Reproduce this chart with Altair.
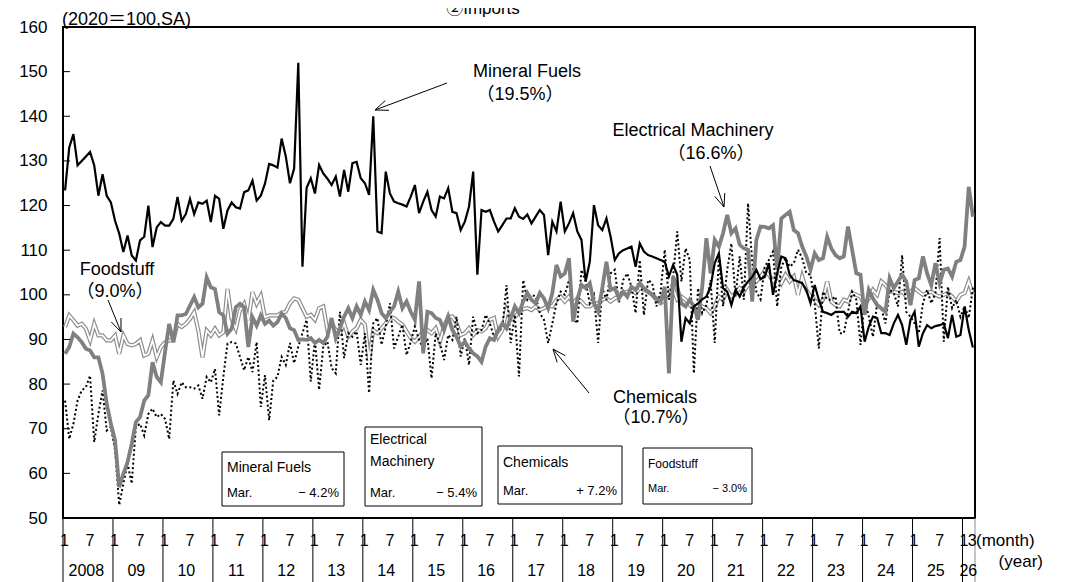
import math
import altair as alt
import pandas as pd

# ---------------- data (monthly, Jan 2008 - Mar 2026, 2020=100, SA) ----------------
year_labels = ["2008", "09", "10", "11", "12", "13", "14", "15", "16", "17",
               "18", "19", "20", "21", "22", "23", "24", "25", "26"]

mineral_fuels = [
    123.4, 133, 136, 129, 130, 131, 132, 129, 122.2, 127, 122.2, 120.7,
    116.6, 113.7, 109.6, 113.3, 108.8, 107.7, 112.2, 113, 120, 110.7, 115.1, 116.3,
    115.5, 115.5, 117, 121.9, 116.6, 118.1, 121.5, 118.1, 120.7, 120.4, 121.1, 116.3,
    122.2, 121.5, 114.8, 118.9, 120.7, 119.6, 119.3, 123, 123.4, 125.6, 121.1, 122.2,
    124.9, 129.3, 129, 128.5, 135, 131, 125, 128.3, 152, 106.3, 124, 126.1,
    122.7, 129.1, 127.2, 126, 124.6, 126.5, 122, 128, 123.1, 129.5, 129.8, 126.1,
    125, 122.4, 140, 114.2, 113.8, 127.6, 122.7, 120.9, 120.5, 120.2, 119.8, 122,
    124.6, 118.3, 120.9, 123.1, 119, 117.5, 122, 121.6, 123.9, 118.6, 118.3, 114.5,
    116.4, 119.8, 127.6, 104.5, 119, 118.6, 119, 116.4, 114.2, 115.6, 117.1, 117.1,
    119.4, 117.5, 117, 118, 116, 117.5, 119, 117.9, 108.9, 116.4, 114.2, 120.9,
    114.2, 116, 118.3, 114.2, 112.3, 103, 107.4, 120.1, 115.6, 114.5, 117.1, 113,
    107.8, 109.3, 110, 110.4, 110.8, 106.3, 111.5, 109.7, 108.9, 108.6, 108.2, 107.8,
    107.4, 104.1, 106.7, 104.5, 89.5, 94.8, 93.6, 97.4, 98.1, 99, 99.6, 101.8,
    107.1, 109.3, 101.5, 100.7, 97.7, 101.1, 99.6, 101.8, 103, 104, 105.6, 103.5,
    104, 107.1, 100, 104.8, 108.6, 108.2, 104.5, 103.3, 103, 102.6, 101.1, 98.1,
    102.2, 98.9, 96.2, 95.9, 95.5, 96.2, 96.2, 96.2, 95.1, 96.2, 95.9, 97.4,
    89.5, 92.9, 95.1, 94.8, 91.4, 91.4, 91, 93.6, 95.5, 93.2, 88.8, 94.4,
    96.2, 88.4, 91.4, 93.2, 92.5, 93, 93.2, 93.6, 90.3, 95.5, 90.6, 91,
    97.4, 92.1, 88.2,
]

electrical_machinery = [
    86.8, 88.3, 91.3, 90.5, 89.4, 87.9, 87.5, 86, 86, 82.3, 75.6, 71.1,
    67.4, 56.9, 59.9, 62.5, 66.6, 71.5, 72.6, 76.3, 77.5, 84.9, 81.6, 80.4,
    87.2, 93.5, 89.4, 95.4, 95.4, 95.7, 97.6, 99.5, 97.2, 98, 103.9, 101.7,
    101.3, 96.1, 95.4, 91.3, 92.4, 97.2, 98, 97.2, 88.3, 95, 93.1, 95.4,
    93.5, 94.2, 93.1, 93.9, 95.8, 94.8, 92.5, 92.1, 89.9, 90, 89.9, 90.3,
    89.2, 89.9, 89.2, 90.6, 94.8, 90.3, 92.5, 95.1, 97, 94.8, 97.4, 95.5,
    98.5, 96.6, 101.1, 98.9, 95.9, 94.8, 96.2, 97.4, 100.7, 97, 98.5, 96.2,
    94.4, 103, 86.9, 96.2, 95.9, 94.8, 94.4, 92.1, 95.1, 92.1, 90.6, 88.4,
    89.5, 88, 86.9, 86.2, 85, 88.4, 90.3, 89.9, 92.1, 93.6, 92.5, 94.8,
    97.4, 95.9, 98.5, 100.4, 98.9, 98.1, 100.4, 99.2, 97, 100.4, 106.7, 104.1,
    104.8, 108.2, 94, 98.9, 102.2, 101.5, 102.6, 98.1, 96.2, 101.5, 107.4, 101.1,
    101.5, 99.2, 100.7, 99.6, 101.8, 101.1, 102.6, 101.5, 100.7, 100, 99.2, 98.5,
    101.8, 82.4, 104.1, 101.8, 98.1, 97.4, 98.9, 97.4, 94.4, 101.8, 112.7, 104.8,
    112.3, 110.8, 113.8, 117.9, 113.8, 114.9, 111.2, 110.4, 110.1, 98.5, 112.3, 115.3,
    115.2, 114.9, 115.6, 105.6, 117.1, 117.9, 118.6, 114.5, 113.8, 110.8, 108.6, 105.6,
    109.3, 107.8, 108.2, 113, 110.4, 108.9, 108.2, 108.6, 115.3, 110.1, 104.8, 104.5,
    95.5, 101.1, 99.2, 97.7, 97, 96.2, 103.7, 101.5, 103, 104.5, 103, 97.7,
    103.3, 103.7, 108.6, 104.8, 102.2, 107.1, 102.6, 105.6, 105.9, 104.1, 107.4, 107.8,
    110.8, 124.2, 117.5,
]

chemicals = [
    76.3, 67.7, 71.1, 76.3, 78.6, 79.3, 81.9, 67, 73.3, 78.6, 69.6, 70.4,
    65.2, 52.9, 57.7, 62.2, 57.7, 70.4, 71.1, 68.5, 73.3, 74.5, 72.6, 73.3,
    72.2, 67.7, 80.8, 77.8, 80.4, 79.3, 79.3, 79, 79.7, 76.7, 81.6, 80.4,
    83.4, 73, 81.6, 89.1, 89.4, 89.1, 86.1, 83.1, 86.1, 82.7, 89.4, 74.9,
    82, 71.9, 80.8, 81.6, 86.1, 84.3, 89.2, 84.7, 88.4, 91.4, 94.4, 80.6,
    89.9, 78.7, 88.4, 89.5, 83.6, 82.4, 96.2, 85.8, 91.4, 90.6, 91.8, 84.3,
    91.4, 78, 93.6, 94.8, 88.8, 92.9, 98.1, 88, 90.6, 93.3, 86.5, 89.5,
    92.9, 89.9, 88, 90.3, 81.3, 91.4, 89.2, 85.4, 91, 89.9, 95.1, 86.2,
    90.3, 84.3, 95.1, 91.4, 92.1, 95.5, 93.6, 90.6, 92.1, 92.5, 102.2, 89.2,
    95.5, 81.7, 103.3, 98.9, 100, 99.6, 95.9, 94.4, 89.2, 93.6, 98.1, 100.7,
    100, 103.3, 95.1, 93.6, 105.6, 103, 98.1, 100, 89.2, 101.5, 98.9, 104.8,
    105.6, 98.1, 103.3, 104.8, 101.8, 95.9, 107.8, 95.5, 103.3, 102.6, 97.4, 100.7,
    110.1, 98.9, 104.1, 114.2, 103, 110.4, 107.8, 82.4, 101.5, 95.9, 97.7, 103.3,
    89.2, 108.6, 97.4, 105.6, 111.5, 99.6, 108.6, 98.9, 120.5, 107.4, 100.7, 99,
    106.3, 107.8, 109.7, 97.4, 106.3, 108.2, 106.3, 107.1, 110.1, 108.2, 104.8, 104.5,
    98.1, 88, 100.7, 98.9, 98.9, 99.6, 91.4, 91.4, 96.2, 100.7, 98.9, 88.8,
    98.9, 95.1, 90.6, 98.1, 97, 93.6, 101.1, 100.4, 97.4, 108.9, 96.2, 95.1,
    93.6, 91.4, 98.1, 101.1, 98.1, 100.4, 112.7, 89.5, 101.8, 97, 98.9, 95.1,
    97.4, 94.8, 101.6,
]

foodstuff = [
    92.8, 95.4, 94.3, 93.1, 93.5, 92.4, 89.8, 93.5, 90.9, 90.9, 89.8, 89.8,
    90.9, 86.8, 90.9, 89, 88.7, 89, 89.8, 86.4, 86.8, 89.8, 86, 88.3,
    89.4, 89.8, 89.8, 93.5, 92.8, 93.5, 94.6, 96.1, 92, 86, 92, 90.9,
    92.4, 90.9, 91.6, 101.3, 94.6, 92.4, 96.5, 98, 94.3, 100.6, 98, 99.8,
    95, 95.4, 95.4, 95.4, 96, 96.2, 98.1, 99.2, 98.9, 97, 95.1, 95.5,
    94.4, 97, 97.4, 92.1, 93.6, 92.1, 91.4, 93.6, 90.6, 91.8, 92.5, 94.4,
    93.3, 85.4, 92.1, 91.4, 92.5, 93.6, 95.1, 94.8, 94, 93.3, 91.8, 90.3,
    89.5, 90.6, 91.8, 92.1, 91.4, 92.5, 89.5, 92.9, 95.1, 95.1, 93.6, 91,
    91.4, 92.5, 91, 92.1, 91.8, 92.5, 94.4, 94.8, 90.6, 92.1, 96.6, 94.4,
    95.1, 96, 96.8, 97, 96.6, 97.4, 96.6, 97, 97.7, 97.4, 98.9, 99.6,
    98.5, 99.6, 98.1, 99.2, 98.5, 97.4, 97.4, 98.1, 98.1, 98.9, 99.2, 98.5,
    99.2, 99.6, 100.4, 100.7, 101.1, 100.4, 101.5, 101.1, 100.7, 100, 98.9, 98.1,
    98.9, 100.7, 101.5, 98.9, 99.6, 98.9, 97.7, 97, 96.6, 97.4, 97, 95.9,
    97.4, 99.6, 98.9, 101.1, 99.6, 100.4, 101.5, 100.7, 102.2, 102.2, 103, 104,
    105.4, 104.5, 103, 104.5, 102.6, 104.5, 103, 104.1, 100, 104.1, 101.1, 99.6,
    98.9, 97.7, 98.9, 103, 98.5, 97.7, 97.4, 98.9, 98.5, 100.4, 100, 99.6,
    97.7, 99.2, 101.1, 100, 103, 102.2, 100.7, 100.7, 100.4, 100.7, 99.6, 100.7,
    101.5, 100.7, 100, 100.4, 100.7, 100, 99.6, 100, 100.4, 99.6, 98.5, 100,
    100.4, 103, 100,
]

y_ticks = [50, 60, 70, 80, 90, 100, 110, 120, 130, 140, 150, 160]
inner_ticks = [60, 70, 80, 90, 100, 110, 120, 130, 140, 150]

# ---------------- layout constants ----------------
FONT = "Liberation Sans, Arial, 'Noto Sans CJK JP', sans-serif"
W, H = 912, 491
N = len(mineral_fuels)
xscale = alt.Scale(domain=[0, N], nice=False, zero=False)
yscale = alt.Scale(domain=[50, 160], nice=False, zero=False)
yaxis = alt.Axis(values=y_ticks, labelFontSize=17, labelFont=FONT, labelColor="black",
                 ticks=False, tickSize=0, domain=False, grid=False, labelPadding=16,
                 title=None, labelOverlap=False)

rows = []
for name, vals in [("Mineral Fuels", mineral_fuels), ("Electrical Machinery", electrical_machinery),
                   ("Chemicals", chemicals), ("Foodstuff", foodstuff)]:
    for i, v in enumerate(vals):
        rows.append({"series": name, "t": i + 0.5, "v": v})
df = pd.DataFrame(rows)


def series_line(name, **kw):
    return alt.Chart(df).transform_filter(alt.datum.series == name).mark_line(clip=False, **kw).encode(
        x=alt.X("t:Q", scale=xscale, axis=None),
        y=alt.Y("v:Q", scale=yscale, axis=yaxis),
        order="t:Q",
    )


dummy = pd.DataFrame({"d": [0]})


def label(text, x, y, align="center", size=18, baseline="middle", color="black"):
    return alt.Chart(dummy).mark_text(text=text, align=align, baseline=baseline, fontSize=size,
                                      font=FONT, color=color).encode(x=alt.value(x), y=alt.value(y))


def seg(x1, y1, x2, y2, color="black", width=1.0):
    return alt.Chart(dummy).mark_rule(color=color, strokeWidth=width).encode(
        x=alt.value(x1), y=alt.value(y1), x2=alt.value(x2), y2=alt.value(y2))


def box(x1, y1, x2, y2):
    return alt.Chart(dummy).mark_rect(fill="white", stroke="black", strokeWidth=1).encode(
        x=alt.value(x1), x2=alt.value(x2), y=alt.value(y1), y2=alt.value(y2))


def arrow(tail, tip, length=14, ang=22):
    (sx, sy), (tx, ty) = tail, tip
    dx, dy = sx - tx, sy - ty
    d = math.hypot(dx, dy)
    ux, uy = dx / d, dy / d
    out = [seg(sx, sy, tx, ty)]
    for s in (1, -1):
        a = math.radians(ang) * s
        wx = ux * math.cos(a) - uy * math.sin(a)
        wy = ux * math.sin(a) + uy * math.cos(a)
        out.append(seg(tx, ty, tx + wx * length, ty + wy * length))
    return out


layers = []

# series lines
layers.append(series_line("Foodstuff", color="#8c8c8c", strokeWidth=4.2))
layers.append(series_line("Foodstuff", color="white", strokeWidth=1.8))
layers.append(series_line("Chemicals", color="black", strokeWidth=2, strokeDash=[2, 2.5]))
layers.append(series_line("Electrical Machinery", color="#808080", strokeWidth=3.8))
layers.append(series_line("Mineral Fuels", color="black", strokeWidth=2.2))

# inner y ticks
tick_df = pd.DataFrame({"v": inner_ticks})
layers.append(alt.Chart(tick_df).mark_rule(color="black", strokeWidth=1).encode(
    y=alt.Y("v:Q", scale=yscale, axis=yaxis), x=alt.value(0), x2=alt.value(7)))

# x axis: year dividers, month labels, year labels
div_df = pd.DataFrame({"t": [12 * k for k in range(len(year_labels))]})
layers.append(alt.Chart(div_df).mark_rule(color="black", strokeWidth=1).encode(
    x=alt.X("t:Q", scale=xscale, axis=None), y=alt.value(H), y2=alt.value(H + 80)))
layers.append(alt.Chart(pd.DataFrame({"t": [N]})).mark_rule(color="#8c8c8c", strokeWidth=1).encode(
    x=alt.X("t:Q", scale=xscale, axis=None), y=alt.value(H), y2=alt.value(H + 80)))

m_rows = []
for k in range(len(year_labels) - 1):
    m_rows.append({"t": 12 * k + 0.35, "m": "1"})
    m_rows.append({"t": 12 * k + 6.5, "m": "7"})
m_rows.append({"t": 12 * 18 + 0.35, "m": "1"})
m_rows.append({"t": 12 * 18 + 2.3, "m": "3"})
layers.append(alt.Chart(pd.DataFrame(m_rows)).mark_text(fontSize=16, font=FONT, color="black",
                                                        baseline="middle").encode(
    x=alt.X("t:Q", scale=xscale, axis=None), y=alt.value(H + 23), text="m:N"))

y_rows = [{"t": 12 * k + 6 - 0.4, "yl": lab} for k, lab in enumerate(year_labels[:-1])]
y_rows.append({"t": 12 * 18 + 1.4, "yl": year_labels[-1]})
layers.append(alt.Chart(pd.DataFrame(y_rows)).mark_text(fontSize=16, font=FONT, color="black",
                                                        baseline="middle").encode(
    x=alt.X("t:Q", scale=xscale, axis=None), y=alt.value(H + 53), text="yl:N"))

layers.append(label("(month)", 913, H + 23, align="left", size=17))
layers.append(label("(year)", 980, H + 44, align="right", size=17))

# titles
layers.append(label("②Imports", 420, -13, baseline="alphabetic", size=17))
layers.append(label("(2020＝100,SA)", -1, -7, align="left"))

# annotations
layers.append(label("Mineral Fuels", 464, 45))
layers.append(label("（19.5%）", 457, 68))
layers += arrow((384, 56), (312, 83))

layers.append(label("Electrical Machinery", 630, 104))
layers.append(label("（16.6%）", 648, 127))
layers += arrow((647, 139), (661, 180))

layers.append(label("Foodstuff", 54, 243))
layers.append(label("（9.0%）", 52, 265))
layers += arrow((45, 273), (58, 305))

layers.append(label("Chemicals", 592, 371))
layers.append(label("（10.7%）", 593, 391))
layers += arrow((526, 366), (490, 322))

# change boxes: (x1, y1, x2, y2), name lines, (Mar., pct, y), font size
boxes = [
    ((159, 425, 281, 479), [("Mineral Fuels", 441)], ("Mar.", "− 4.2%", 466), 14),
    ((302, 400, 419, 479), [("Electrical", 413), ("Machinery", 435)], ("Mar.", "− 5.4%", 466), 14),
    ((435, 419, 559, 477), [("Chemicals", 436)], ("Mar.", "+ 7.2%", 464), 14),
    ((580, 421, 689, 477), [("Foodstuff", 437)], ("Mar.", "− 3.0%", 462), 12),
]
for (x1, y1, x2, y2), names, (mar, pct, yy), fs in boxes:
    layers.append(box(x1, y1, x2, y2))
    for txt, ty in names:
        layers.append(label(txt, x1 + 5, ty, align="left", size=fs))
    layers.append(label(mar, x1 + 5, yy, align="left", size=fs - 1))
    layers.append(label(pct, x2 - 5, yy, align="right", size=fs - 1))

chart = alt.layer(*layers).properties(
    width=W, height=H,
    autosize=alt.AutoSizeParams(type="none"),
    padding={"left": 55, "top": 19, "right": 80, "bottom": 64},
).configure_view(stroke="black", strokeWidth=2)

chart.save("out.html", embed_options={"renderer": "svg", "actions": False})
